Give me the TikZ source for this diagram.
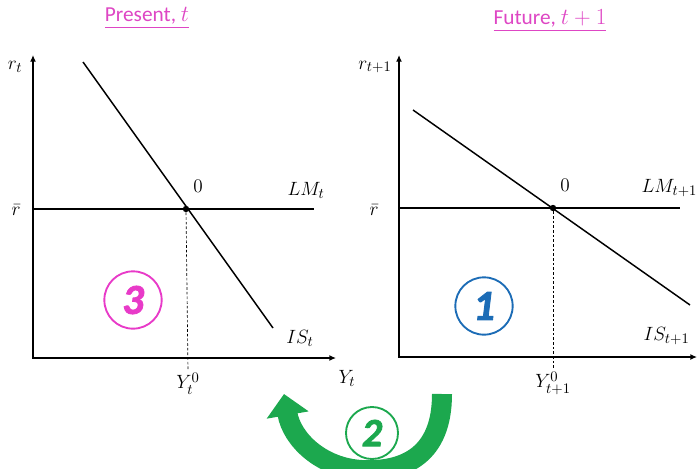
\documentclass[tikz,border=0pt]{standalone}
\usepackage{amsmath}
\usepackage{fontspec}
\setsansfont{Carlito}
\newfontfamily\numfont{Carlito}[FakeBold=2]
\usepackage{tikz}
\usetikzlibrary{arrows.meta,positioning,calc}
\definecolor{titlepink}{RGB}{222,70,196}
\definecolor{numpink}{RGB}{232,58,200}
\definecolor{numblue}{RGB}{28,108,182}
\definecolor{bandgreen}{RGB}{28,168,78}
\tikzset{
  axis/.style={line width=2pt, {Latex[length=5pt,width=4.5pt]}-{Latex[length=5pt,width=4.5pt]}},
  curve/.style={line width=1.1pt},
  guide/.style={line width=0.5pt, dash pattern=on 2pt off 1.5pt},
  eqdot/.style={circle, fill=black, inner sep=1.7pt},
  lab/.style={font=\fontsize{15}{17}\selectfont, inner sep=1pt},
  ttl/.style={font=\sffamily\fontsize{16}{18}\selectfont, text=titlepink},
  stepnum/.style={circle, draw=#1, text=#1, line width=1.4pt, minimum size=43pt, inner sep=0pt,
    font=\numfont\bfseries\itshape\fontsize{32}{32}\selectfont}
}
\begin{document}
\begin{tikzpicture}[x=0.75pt,y=-0.75pt]
\useasboundingbox (0,0) rectangle (698,468);
\clip (0,0) rectangle (698,468);
% Titles
\node[ttl] (tPres) at (147,18) {\underline{Present, $t$}};
\node[ttl] (tFut) at (550,21) {\underline{Future, $t+1$}};
% Present: axes
\coordinate (oL) at (33,358);
\coordinate (yL) at (33,55);
\coordinate (xL) at (336,358);
\draw[axis] (yL) -- (oL) -- (xL);
\node[lab] (rL) at (15,67) {$r_t$};
\node[lab] (YL) at (347,378) {$Y_t$};
\node[lab] (rbL) at (16,210) {$\bar{r}$};
% Present: LM and IS
\coordinate (lmL0) at (33,209);
\coordinate (lmL1) at (314,209);
\draw[curve] (lmL0) -- (lmL1);
\node[lab] (lmLtxt) at (306,190) {$LM_t$};
\coordinate (isL0) at (83,62);
\coordinate (isL1) at (273,328);
\draw[curve] (isL0) -- (isL1);
\node[lab] (isLtxt) at (300,338) {$IS_t$};
\node[eqdot] (eL) at (186,209) {};
\node[lab] (zL) at (198,186) {$0$};
\coordinate (gL) at (188,371);
\draw[guide] (eL) -- (gL);
\node[lab,anchor=north] (y0L) at (gL) {$Y_t^0$};
\node[stepnum=numpink] (n3) at (133,300) {3};
% Future: axes
\coordinate (oR) at (399,357);
\coordinate (yR) at (399,55);
\coordinate (xR) at (697,357);
\draw[axis] (yR) -- (oR) -- (xR);
\node[lab] (rR) at (375,67) {$r_{t+1}$};
\node[lab] (rbR) at (374,210) {$\bar{r}$};
% Future: LM and IS
\coordinate (lmR0) at (399,208);
\coordinate (lmR1) at (680,208);
\draw[curve] (lmR0) -- (lmR1);
\node[lab,anchor=west] (lmRtxt) at (640,188) {$LM_{t+1}$};
\coordinate (isR0) at (413,110);
\coordinate (isR1) at (690,305);
\draw[curve] (isR0) -- (isR1);
\node[lab,anchor=west] (isRtxt) at (642,336) {$IS_{t+1}$};
\node[eqdot] (eR) at (553,208) {};
\node[lab] (zR) at (565,185) {$0$};
\coordinate (gR) at (553,370);
\draw[guide] (eR) -- (gR);
\node[lab,anchor=north] (y0R) at (gR) {$Y^{0}_{t+1}$};
\node[stepnum=numblue] (n1) at (484,306) {1};
% Back from future to present
\coordinate (bandR) at (442,394);
\coordinate (bandL) at (284,394);
\draw[bandgreen, line width=15pt, -{Triangle[length=16pt,width=31pt]}]
  (bandR) .. controls (442,455) and (405,472) .. (362,470)
  .. controls (322,468) and (292,440) .. (bandL);
\node[stepnum=bandgreen, minimum size=39pt, font=\numfont\bfseries\itshape\fontsize{30}{30}\selectfont] (n2) at (372,433) {2};
\end{tikzpicture}
\end{document}
